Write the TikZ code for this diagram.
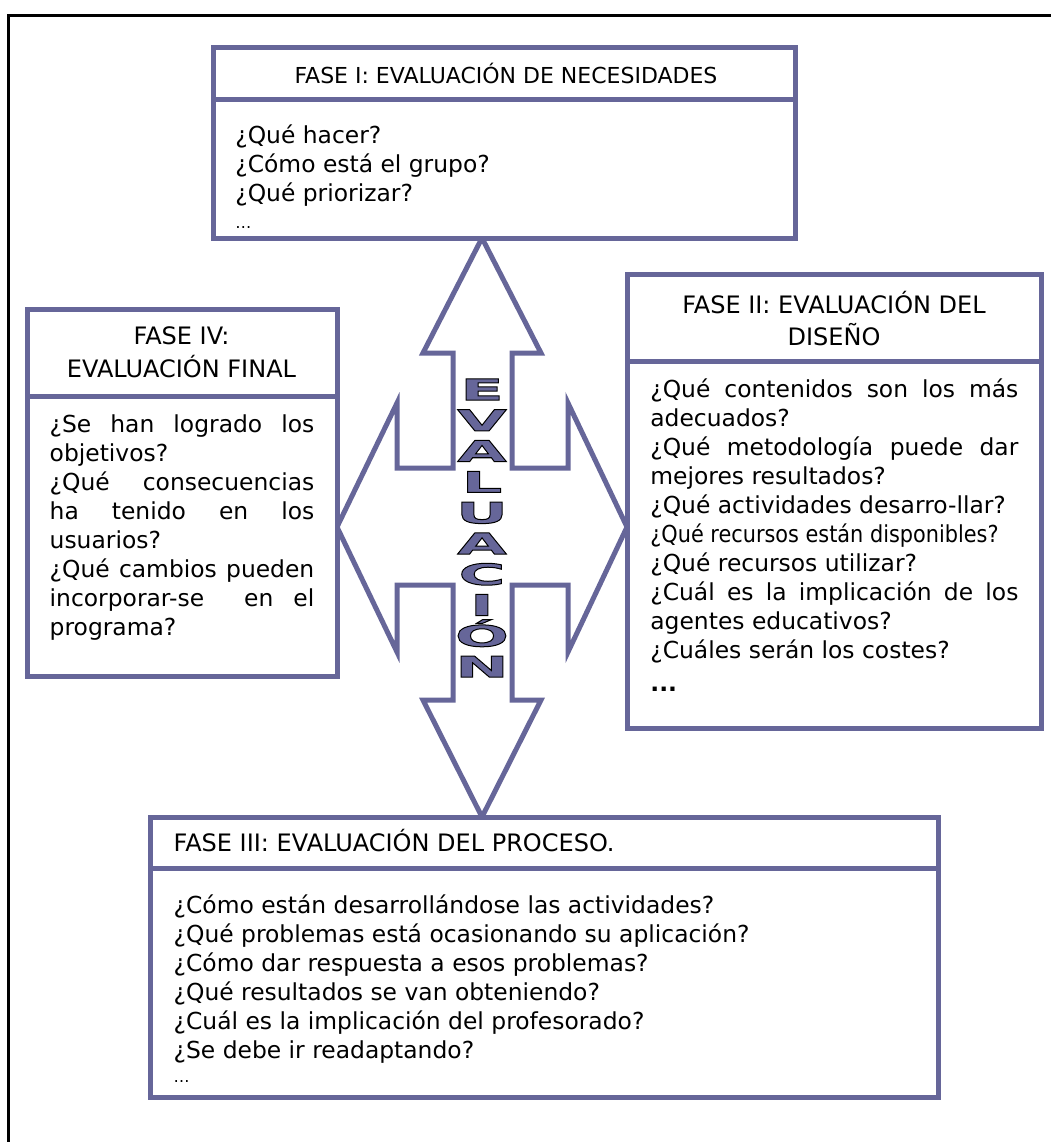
\documentclass[tikz,border=0pt]{standalone}
\usepackage{fontspec}
\setmainfont{DejaVu Sans}
\newfontfamily\narrowfont{DejaVu Sans}[FakeStretch=0.89]
\newfontfamily\blockfont{DejaVu Sans}[FakeStretch=2.2]
\definecolor{phase}{HTML}{666699}
\setlength{\parindent}{0pt}
\tolerance=10000
\hyphenpenalty=10000
% filled letters with a black outline
\newcommand\outlined[1]{\special{pdf:literal direct 2 Tr 0.5 w 0 G}#1\special{pdf:literal direct 0 Tr}}
\tikzset{
    box/.style={draw=phase,line width=2.5pt,fill=white},
    head/.style={inner sep=0pt,align=center,font=\fontsize{12}{14.5}\selectfont},
    body/.style={inner sep=0pt,font=\fontsize{11.7}{14.5}\selectfont},
    letter/.style={inner sep=0pt,text=phase,font=\blockfont\bfseries\fontsize{14.5}{14.5}\selectfont}
}
\begin{document}
\begin{tikzpicture}[x=0.5pt,y=-0.5pt]	% 1 unit = 1 pixel, y downwards
    
    \def\lx{482}	 %x of the letters
    \def\ly{400}	 %baseline of the first letter
    \def\ld{30.8}	 %distance between letters
    
    \useasboundingbox (0,0) rectangle (1051,1142);
    
    %FRAME
    \draw[line width=1.2pt] (8.5,1142)--(8.5,15.5)--(1051,15.5);
    
    %CROSS OF ARROWS
    \draw[box] (482,238)--(541,353)--(512,353)--(512,468)--(568,468)--(568,403)--(627,527)	% top, right
        --(568,652)--(568,585)--(512,585)--(512,700)--(541,700)--(482,817)	% right, bottom
        --(423,700)--(453,700)--(453,585)--(397,585)--(397,652)--(337,527)	% bottom, left
        --(397,403)--(397,468)--(453,468)--(453,353)--(423,353)--cycle;	% left, top
    
    %BOXES
    \draw[box] (213,47) rectangle (795,238);	\draw[phase,line width=2.5pt] (213,99)--(795,99);	 %fase I
    \draw[box] (627,274) rectangle (1041,728);	\draw[phase,line width=2.5pt] (627,361)--(1041,361);	 %fase II
    \draw[box] (150,817) rectangle (938,1097);	\draw[phase,line width=2.5pt] (150,868)--(938,868);	 %fase III
    \draw[box] (27,309) rectangle (337,676);	\draw[phase,line width=2.5pt] (27,396)--(337,396);	 %fase IV
    
    %FASE I
    \node[head,anchor=base,font=\fontsize{11}{13}\selectfont] (f1head) at (506,83) {FASE I: EVALUACIÓN DE NECESIDADES};
    \node[body,anchor=north west,align=left] (f1body) at (235,122.7) {\strut¿Qué hacer?\\¿Cómo está el grupo?\\¿Qué priorizar?\\[-1pt]{\fontsize{8}{9}\selectfont\dots}};
    
    %FASE II
    \node[head,anchor=north,font=\fontsize{12}{14}\selectfont] (f2head) at (834,290.4) {\strut FASE II: EVALUACIÓN DEL\\DISEÑO};
    \node[body,anchor=north west,text width=184pt,align=justify] (f2body) at (650,376.4) {\strut¿Qué contenidos son los más\linebreak adecuados?\\
        ¿Qué metodología puede dar\linebreak mejores resultados?\\
        ¿Qué actividades desarro-llar?\\
        {\narrowfont ¿Qué recursos están disponibles?}\\
        ¿Qué recursos utilizar?\\
        ¿Cuál es la implicación de los\linebreak agentes educativos?\\
        ¿Cuáles serán los costes?\\[2pt]
        \textbf{...}};
    
    %FASE III
    \node[head,anchor=base west] (f3head) at (173.3,851.7) {FASE III: EVALUACIÓN DEL PROCESO.};
    \node[body,anchor=north west,align=left] (f3body) at (173.3,892.7) {\strut¿Cómo están desarrollándose las actividades?\\
        ¿Qué problemas está ocasionando su aplicación?\\
        ¿Cómo dar respuesta a esos problemas?\\
        ¿Qué resultados se van obteniendo?\\
        ¿Cuál es la implicación del profesorado?\\
        ¿Se debe ir readaptando?\\[-2.5pt]
        {\fontsize{8}{9}\selectfont\dots}};
    
    %FASE IV
    \node[head,anchor=north] (f4head) at (181.5,324) {\strut FASE IV:\\EVALUACIÓN FINAL};
    \node[body,anchor=north west,text width=132.3pt,align=justify] (f4body) at (49.3,411.4) {\strut¿Se han logrado los\linebreak objetivos?\\
        ¿Qué consecuencias\linebreak ha tenido en los\linebreak usuarios?\\
        ¿Qué cambios pueden\linebreak incorporar-se \ en el\linebreak programa?};
    
    %EVALUACIÓN, one letter under the other
    \foreach \ch [count=\i from 0] in {E,V,A,L,U,A,C,I,Ó,N}{
        \node[letter,anchor=base] (ev\i) at (\lx,\ly+\i*\ld) {\outlined{\ch}};
    } %end of letters
\end{tikzpicture}
\end{document}
